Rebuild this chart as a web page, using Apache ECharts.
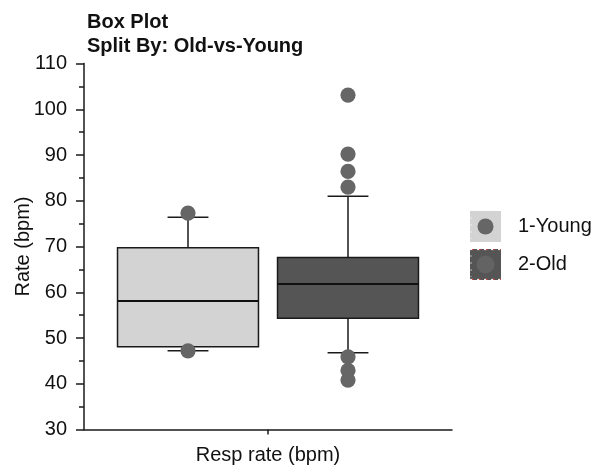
<!DOCTYPE html>
<html>
<head>
<meta charset="utf-8">
<script src="https://cdn.jsdelivr.net/npm/echarts@6/dist/echarts.min.js"></script>
<style>
  html, body { margin: 0; padding: 0; background: #fff; }
  #chart { width: 595px; height: 465px; }
</style>
</head>
<body>
<div id="chart"></div>
<script>
// Category on the x axis and the two groups drawn inside it
const categories = ['Resp rate (bpm)'];
const groupNames = ['1-Young', '2-Old'];

// Box statistics per group: [lower whisker, Q1, median, Q3, upper whisker]
const youngStats = [47.2, 48.1, 58.1, 69.7, 76.4];
const oldStats = [46.8, 54.3, 61.8, 67.6, 81.0];

// Individual outlying points per group
const youngOutliers = [77.3, 47.2];
const oldOutliers = [103.1, 90.2, 86.4, 83.0, 45.9, 42.9, 40.8];

// Y axis tick settings
const yMin = 30, yMax = 110, yStep = 10;

const FONT = "'Liberation Sans', Arial, sans-serif";
const INK = '#111111';

// Horizontal placement of each group inside the category band (fractions of band width)
const groupOffset = [-0.2174, 0.2174];
const boxFrac = 0.383;
const capFrac = 0.111;
const boxFill = ['#d3d3d3', '#555555'];
const dotColor = '#666666';

function boxRenderer(groupIdx) {
  return function (params, api) {
    const band = api.size([1, 0])[0];
    const cx = api.coord([api.value(0), yMin])[0] + groupOffset[groupIdx] * band;
    const y = i => api.coord([api.value(0), api.value(i)])[1];
    const yLow = y(1), yQ1 = y(2), yMed = y(3), yQ3 = y(4), yHigh = y(5);
    const hw = boxFrac * band / 2;
    const cw = capFrac * band / 2;
    const line = { stroke: '#1a1a1a', lineWidth: 1.5 };
    return {
      type: 'group',
      children: [
        { type: 'line', shape: { x1: cx, y1: yHigh, x2: cx, y2: yQ3 }, style: line },
        { type: 'line', shape: { x1: cx, y1: yQ1, x2: cx, y2: yLow }, style: line },
        { type: 'line', shape: { x1: cx - cw, y1: yHigh, x2: cx + cw, y2: yHigh }, style: line },
        { type: 'line', shape: { x1: cx - cw, y1: yLow, x2: cx + cw, y2: yLow }, style: line },
        { type: 'rect', shape: { x: cx - hw, y: yQ3, width: 2 * hw, height: yQ1 - yQ3 },
          style: { fill: boxFill[groupIdx], stroke: '#1a1a1a', lineWidth: 1.5 } },
        { type: 'line', shape: { x1: cx - hw, y1: yMed, x2: cx + hw, y2: yMed },
          style: { stroke: '#111', lineWidth: 2 } }
      ]
    };
  };
}

function dotRenderer(groupIdx) {
  return function (params, api) {
    const band = api.size([1, 0])[0];
    const p = api.coord([api.value(0), api.value(1)]);
    return {
      type: 'circle',
      shape: { cx: p[0] + groupOffset[groupIdx] * band, cy: p[1], r: 7.6 },
      style: { fill: dotColor }
    };
  };
}

function legendIcon(fill, dot, r, dashed) {
  let svg = "<svg xmlns='http://www.w3.org/2000/svg' width='31' height='31'>" +
    "<rect width='31' height='31' fill='" + fill + "'/>" +
    "<circle cx='15.5' cy='15.5' r='" + r + "' fill='" + dot + "'/>" +
    "<line x1='1' y1='6' x2='1' y2='28' stroke='#ffffff' stroke-opacity='0.6' stroke-dasharray='2 5'/>";
  if (dashed) {
    svg += "<line x1='0' y1='0.6' x2='31' y2='0.6' stroke='#ffffff' stroke-dasharray='3 4'/>" +
      "<line x1='2' y1='0.6' x2='31' y2='0.6' stroke='#d33' stroke-dasharray='1.5 5.5'/>" +
      "<line x1='0' y1='30.4' x2='31' y2='30.4' stroke='#ffffff' stroke-dasharray='3 4'/>" +
      "<line x1='2' y1='30.4' x2='31' y2='30.4' stroke='#d33' stroke-dasharray='1.5 5.5'/>";
  }
  svg += '</svg>';
  return 'image://data:image/svg+xml;charset=utf-8,' + encodeURIComponent(svg);
}

const statsByGroup = [youngStats, oldStats];
const outliersByGroup = [youngOutliers, oldOutliers];

const series = [];
groupNames.forEach((name, g) => {
  series.push({
    name: name,
    type: 'custom',
    renderItem: boxRenderer(g),
    encode: { x: 0, y: [1, 2, 3, 4, 5] },
    data: [[0].concat(statsByGroup[g])],
    silent: true,
    z: 2
  });
});
groupNames.forEach((name, g) => {
  series.push({
    name: name,
    type: 'custom',
    renderItem: dotRenderer(g),
    encode: { x: 0, y: 1 },
    data: outliersByGroup[g].map(v => [0, v]),
    silent: true,
    z: 3
  });
});

const chart = echarts.init(document.getElementById('chart'), null, { renderer: 'canvas' });
chart.setOption({
  backgroundColor: '#ffffff',
  animation: false,
  title: {
    text: 'Box Plot\nSplit By: Old-vs-Young',
    left: 87,
    top: 10,
    padding: 0,
    textStyle: { fontFamily: FONT, fontSize: 20, fontWeight: 'bold', color: INK, lineHeight: 24 }
  },
  legend: {
    orient: 'vertical',
    left: 470,
    top: 211,
    padding: 0,
    itemWidth: 31,
    itemHeight: 31,
    itemGap: 7,
    data: [
      { name: groupNames[0], icon: legendIcon('#d3d3d3', '#666666', 8, false) },
      { name: groupNames[1], icon: legendIcon('#555555', '#636363', 9, true) }
    ],
    textStyle: { fontFamily: FONT, fontSize: 20, color: INK, padding: [0, 0, 0, 12] },
    selectedMode: false
  },
  grid: { left: 84, top: 63.5, width: 368, height: 366, containLabel: false, outerBoundsMode: 'none' },
  xAxis: {
    type: 'category',
    data: categories,
    axisLine: { show: true, lineStyle: { color: '#1a1a1a', width: 1.5 } },
    axisTick: { show: true, alignWithLabel: true, length: 5, lineStyle: { color: '#1a1a1a', width: 1.5 } },
    axisLabel: { fontFamily: FONT, fontSize: 20, color: INK, margin: 16 },
    splitLine: { show: false }
  },
  yAxis: {
    type: 'value',
    min: yMin,
    max: yMax,
    interval: yStep,
    name: 'Rate (bpm)',
    nameLocation: 'middle',
    nameGap: 51,
    nameMoveOverlap: false,
    nameTextStyle: { fontFamily: FONT, fontSize: 20, color: INK },
    axisLine: { show: true, lineStyle: { color: '#1a1a1a', width: 1.5 } },
    axisTick: { show: true, length: 8, lineStyle: { color: '#1a1a1a', width: 1.5 } },
    minorTick: { show: true, splitNumber: 2, length: 5, lineStyle: { color: '#1a1a1a', width: 1.5 } },
    axisLabel: { fontFamily: FONT, fontSize: 20, color: INK, margin: 17 },
    splitLine: { show: false }
  },
  series: series
});
</script>
</body>
</html>
